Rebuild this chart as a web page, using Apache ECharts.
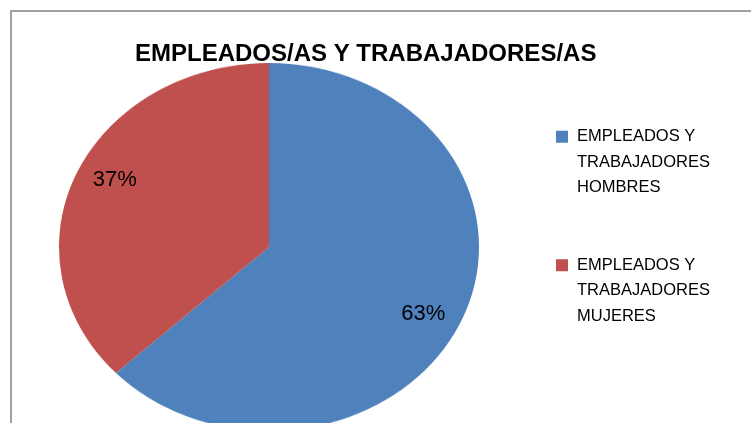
<!DOCTYPE html>
<html>
<head>
<meta charset="utf-8">
<script src="https://cdn.jsdelivr.net/npm/echarts@6/dist/echarts.min.js"></script>
<style>
html,body{margin:0;padding:0;background:#fff;overflow:hidden;}
.wrap{position:relative;width:751px;height:423px;overflow:hidden;}
/* the reference pie is an ellipse, so the pie layer is squashed vertically */
#pieChart{position:absolute;left:0;top:0;width:751px;height:540px;transform:scaleY(0.876);transform-origin:0 247px;}
#mainChart{position:absolute;left:0;top:0;width:751px;height:423px;}
</style>
</head>
<body>
<div class="wrap">
	<div id="pieChart"></div>
	<div id="mainChart"></div>
</div>
<script>
var titleText = 'EMPLEADOS/AS Y TRABAJADORES/AS';
var categories = ['EMPLEADOS Y\nTRABAJADORES\nHOMBRES', 'EMPLEADOS Y\nTRABAJADORES\nMUJERES'];
var values = [63, 37];
var colors = ['#4F81BD', '#C0504D'];

var seriesData = categories.map(function(name, i){
	return {name: name, value: values[i], itemStyle: {color: colors[i]}};
});

// bottom layer: the coloured pie
var pieChart = echarts.init(document.getElementById('pieChart'));
pieChart.setOption({
	animation: false,
	series: [{
		type: 'pie',
		center: [269, 247],
		radius: 210,
		startAngle: 90,
		clockwise: true,
		label: {show: false},
		labelLine: {show: false},
		emphasis: {disabled: true},
		data: seriesData
	}]
});

// top layer: title, legend, percentage labels and frame
var mainChart = echarts.init(document.getElementById('mainChart'));
mainChart.setOption({
	animation: false,
	title: {
		text: titleText,
		left: 135,
		top: 42,
		padding: 0,
		textStyle: {
			fontFamily: 'Liberation Sans',
			fontWeight: 'bold',
			fontSize: 24,
			color: '#000'
		}
	},
	legend: {
		orient: 'vertical',
		left: 556,
		top: 73,
		padding: 0,
		itemWidth: 12,
		itemHeight: 12,
		itemGap: 1,
		icon: 'rect',
		selectedMode: false,
		data: categories.map(function(name, i){
			return {name: name, itemStyle: {color: colors[i], opacity: 1}};
		}),
		// two empty lines on top so the first text line sits beside the icon
		formatter: function(name){
			return '\n\n' + name;
		},
		textStyle: {
			fontFamily: 'Liberation Sans',
			fontSize: 16.5,
			lineHeight: 25.5,
			color: '#000',
			padding: [0, 0, 0, 4]
		}
	},
	graphic: [{
		type: 'rect',
		shape: {x: 11, y: 11, width: 800, height: 500},
		style: {fill: 'none', stroke: '#a0a0a0', lineWidth: 2},
		silent: true
	}],
	series: [{
		type: 'pie',
		center: [269, 247],
		radius: [130, 200],
		startAngle: 90,
		clockwise: true,
		itemStyle: {color: 'rgba(0,0,0,0)'},
		emphasis: {disabled: true},
		silent: true,
		label: {
			show: true,
			position: 'inside',
			formatter: '{d}%',
			fontFamily: 'Liberation Sans',
			fontSize: 22,
			color: '#000'
		},
		labelLine: {show: false},
		data: categories.map(function(name, i){
			return {name: name, value: values[i]};
		})
	}]
});
</script>
</body>
</html>
